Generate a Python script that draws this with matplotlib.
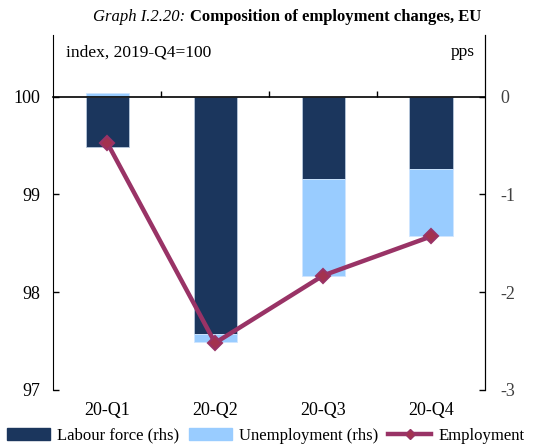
import numpy as np
import matplotlib.pyplot as plt
from matplotlib.lines import Line2D
from matplotlib.patches import Patch

plt.rcParams['font.family'] = ['Liberation Serif', 'DejaVu Serif']

quarters = ['20-Q1', '20-Q2', '20-Q3', '20-Q4']
labour_force = np.array([-0.51, -2.43, -0.84, -0.74])   # pps, rhs
unemployment = np.array([0.04, -0.08, -0.99, -0.69])    # pps, rhs
employment = np.array([99.53, 97.48, 98.17, 98.57])     # index, lhs

navy = '#1B365D'
light = '#99CCFF'
maroon = '#993366'

fig = plt.figure(figsize=(5.42, 4.45), dpi=100)
ax = fig.add_axes([0.098, 0.124, 0.797, 0.797])
ax2 = ax.twinx()

x = np.arange(len(quarters))
w = 0.4
ax2.bar(x, labour_force, w, color=navy, edgecolor='#B8C8DC', linewidth=0.6)
ub = np.where(unemployment < 0, labour_force, 0)
ax2.bar(x, unemployment, w, bottom=ub, color=light, edgecolor='#CFE6FF', linewidth=0.6)

ax.set_zorder(ax2.get_zorder() + 1)
ax.patch.set_visible(False)
ax.plot(x, employment, color=maroon, lw=3.2, marker='D', ms=7,
        markerfacecolor='#A3324F', markeredgecolor=maroon, markeredgewidth=1.5)

top = 100.63
ax.set_ylim(97, top)
ax2.set_ylim(-3, top - 100)
ax.set_xlim(-0.5, 3.5)

ax.set_yticks([97, 98, 99, 100])
ax2.set_yticks([-3, -2, -1, 0])
ax2.set_yticklabels(['-3', '-2', '-1', '0'])
for a in (ax, ax2):
    a.spines['top'].set_visible(False)
    a.tick_params(axis='y', direction='in', length=4, width=1, labelsize=13, colors='black')
ax.tick_params(axis='y', pad=9)
ax2.tick_params(axis='y', pad=11, labelcolor='#404040')
ax.spines['left'].set_bounds(97, top)
ax2.spines['right'].set_bounds(-3, top - 100)
ax2.spines['left'].set_visible(False)
ax2.spines['bottom'].set_visible(False)

# x axis line at 100 with boundary ticks pointing up
ax.spines['bottom'].set_position(('data', 100))
ax.spines['bottom'].set_linewidth(1.2)
ax.set_xticks([0.5, 1.5, 2.5])
ax.tick_params(axis='x', direction='in', length=4, width=1, labelbottom=False)
sec = ax.secondary_xaxis('bottom')
sec.spines['bottom'].set_visible(False)
sec.set_xticks(x)
sec.set_xticklabels(quarters)
sec.tick_params(length=0, labelsize=13, pad=9)

ax.text(0.03, 0.975, 'index, 2019-Q4=100', transform=ax.transAxes, fontsize=12.5, va='top', ha='left')
ax.text(0.975, 0.975, 'pps', transform=ax.transAxes, fontsize=12.5, va='top', ha='right')

fig.text(0.35, 0.962, 'Graph I.2.20: ', fontsize=12, style='italic', ha='right', va='center')
fig.text(0.35, 0.962, 'Composition of employment changes, EU', fontsize=12, weight='bold', ha='left', va='center')

handles = [Patch(color=navy), Patch(color=light),
           Line2D([0], [0], color=maroon, lw=3.2, marker='D', ms=5, markerfacecolor='#A3324F')]
fig.legend(handles, ['Labour force (rhs)', 'Unemployment (rhs)', 'Employment'],
           loc='lower left', bbox_to_anchor=(0.0, -0.012), ncol=3, frameon=False, fontsize=12,
           handlelength=2.6, handletextpad=0.4, columnspacing=0.6, borderaxespad=0)

fig.savefig('out.png', dpi=100)
